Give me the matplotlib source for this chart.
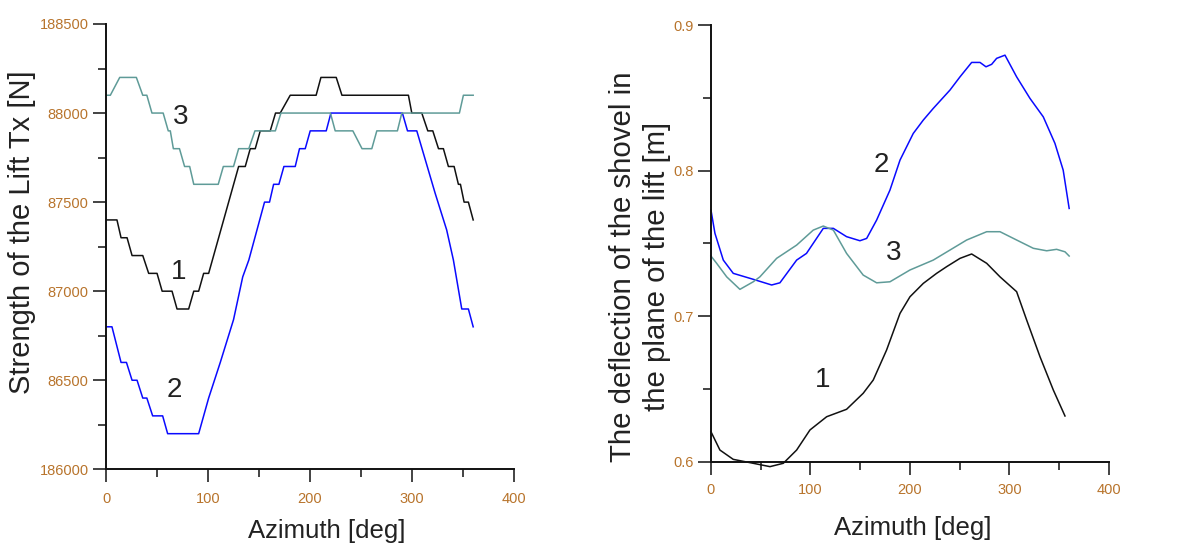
import matplotlib
matplotlib.use("Agg")
import matplotlib.pyplot as plt
from matplotlib.ticker import MultipleLocator, FixedLocator, FixedFormatter

plt.rcParams["font.family"] = ["Liberation Sans", "DejaVu Sans"]

# ---- Left panel: lift force Tx [N] vs azimuth ----
az_t1 = [0, 10.7, 14.7, 20.6, 25.5, 36, 41.8, 50, 55, 64.7, 69.6, 81, 86, 90.8,
         95.7, 100.6, 130, 136.5, 141.4, 146.3, 151.2, 161, 166.2, 170.8, 180.6,
         206, 210.7, 225.7, 231.3, 296.5, 299.8, 309.6, 315.5, 320.4, 326, 330.8,
         335.7, 341.3, 345.5, 347.5, 351.1, 355.3, 360]
tx_1 = [87400, 87400, 87300, 87300, 87200, 87200, 87100, 87100, 87000, 87000,
        86900, 86900, 87000, 87000, 87100, 87100, 87700, 87700, 87800, 87800,
        87900, 87900, 88000, 88000, 88100, 88100, 88200, 88200, 88100, 88100,
        88000, 88000, 87900, 87900, 87800, 87800, 87700, 87700, 87600, 87600,
        87500, 87500, 87400]

az_t2 = [0, 5.8, 14.7, 20, 25.5, 30.4, 36, 40, 45.7, 55.5, 60.4, 90.8, 100.6,
         112, 125, 134, 140, 155.4, 160.3, 164.3, 169.5, 174.4, 185.5, 189.7,
         195.3, 200.2, 215.9, 220.5, 290.6, 295.6, 304.7, 322.7, 334, 340.6,
         348.8, 355.3, 360]
tx_2 = [86800, 86800, 86600, 86600, 86500, 86500, 86400, 86400, 86300, 86300,
        86200, 86200, 86400, 86600, 86840, 87080, 87175, 87500, 87500, 87600,
        87600, 87700, 87700, 87800, 87800, 87900, 87900, 88000, 88000, 87900,
        87900, 87550, 87344, 87175, 86900, 86900, 86800]

az_t3 = [0, 4.2, 13.4, 29.7, 36, 40, 45, 56, 61, 63, 66, 72, 77, 82, 86, 110,
         115, 125, 130, 140, 146, 166, 171.5, 220, 224.7, 242, 251, 260.6, 265.5,
         285.7, 290, 346.5, 350.4, 360]
tx_3 = [88100, 88100, 88200, 88200, 88100, 88100, 88000, 88000, 87900, 87900,
        87800, 87800, 87700, 87700, 87600, 87600, 87700, 87700, 87800, 87800,
        87900, 87900, 88000, 88000, 87900, 87900, 87800, 87800, 87900, 87900,
        88000, 88000, 88100, 88100]

tx_ticks = [86000, 86500, 87000, 87500, 88000, 88500]
tx_tick_labels = ["186000", "86500", "87000", "87500", "88000", "188500"]

# ---- Right panel: shovel deflection [m] vs azimuth ----
az_d1 = [0, 9, 22.4, 42.5, 59.3, 72.7, 86.1, 99.5, 116.3, 136.3, 153, 163.1,
         176.5, 190, 200, 213.4, 226.8, 236.9, 250.3, 262, 277.1, 290.5, 307.2,
         317.3, 330.7, 344.1, 355.8]
dfl_1 = [0.6206, 0.608, 0.6016, 0.5989, 0.5966, 0.5989, 0.608, 0.6218, 0.6309,
         0.636, 0.647, 0.6561, 0.6767, 0.7019, 0.7133, 0.7225, 0.7294, 0.734,
         0.7397, 0.7427, 0.7363, 0.727, 0.7168, 0.6973, 0.6721, 0.6492, 0.6314]

az_d2 = [0, 4, 12.4, 22.4, 42.5, 61, 69.3, 86.1, 96, 112.9, 123, 136.3, 149.7,
         156.5, 166.5, 179.9, 190, 203.3, 213.4, 223.4, 240.2, 250.3, 262, 270.4,
         276.4, 282.1, 287.1, 295.5, 307.2, 320.6, 334, 345.7, 354, 360]
dfl_2 = [0.7729, 0.7569, 0.7385, 0.7294, 0.7253, 0.7214, 0.7229, 0.7385, 0.7431,
         0.7603, 0.7603, 0.7546, 0.7518, 0.7534, 0.766, 0.7866, 0.8072, 0.8255,
         0.8347, 0.8427, 0.8553, 0.8644, 0.8743, 0.8743, 0.8713, 0.873, 0.8771,
         0.8793, 0.8644, 0.8496, 0.8369, 0.8187, 0.8003, 0.774]

az_d3 = [0, 5.7, 15.8, 29.1, 42.5, 49.2, 66, 86.1, 102.8, 112.9, 123, 136.3, 153,
         166.5, 179.9, 200, 223.4, 240.2, 257, 277.1, 290.5, 307.2, 324, 337.4,
         347.4, 355.8, 360]
dfl_3 = [0.7413, 0.7363, 0.727, 0.7184, 0.7236, 0.727, 0.7397, 0.7488, 0.7591,
         0.7619, 0.7591, 0.7431, 0.7282, 0.7229, 0.7236, 0.7317, 0.7385, 0.7454,
         0.7523, 0.758, 0.758, 0.7523, 0.7466, 0.7449, 0.7459, 0.7442, 0.7413]

curve_names = ["1", "2", "3"]

BLACK = "#111111"
BLUE = "#0a0aff"
TEAL = "#5f9b98"
TICK_COLOR = "#b8742c"
TEXT_COLOR = "#222222"

fig = plt.figure(figsize=(11.81, 5.44), dpi=100)
ax1 = fig.add_axes([0.0898, 0.1373, 0.4352 - 0.0898, 0.9559 - 0.1373])
ax2 = fig.add_axes([0.602, 0.1513, 0.939 - 0.602, 0.954 - 0.1513])


def style_axes(ax, xpad):
    for side in ("top", "right"):
        ax.spines[side].set_visible(False)
    for side in ("left", "bottom"):
        ax.spines[side].set_linewidth(1.4)
        ax.spines[side].set_color("#111111")
    ax.tick_params(which="major", direction="out", length=9.5, width=1.1,
                   colors="#111111", labelcolor=TICK_COLOR, labelsize=10.5, pad=3)
    ax.tick_params(which="minor", direction="out", length=5.5, width=1.1,
                   colors="#111111")
    ax.tick_params(axis="x", which="major", pad=xpad)


# Left panel
ax1.plot(az_t1, tx_1, color=BLACK, lw=1.1)
ax1.plot(az_t2, tx_2, color=BLUE, lw=1.1)
ax1.plot(az_t3, tx_3, color=TEAL, lw=1.1)
ax1.set_xlim(0, 400)
ax1.set_ylim(86000, 88500)
ax1.xaxis.set_major_locator(MultipleLocator(100))
ax1.xaxis.set_minor_locator(MultipleLocator(50))
ax1.yaxis.set_major_locator(FixedLocator(tx_ticks))
ax1.yaxis.set_major_formatter(FixedFormatter(tx_tick_labels))
ax1.yaxis.set_minor_locator(MultipleLocator(250))
style_axes(ax1, xpad=7)
ax1.set_xlabel("Azimuth [deg]", fontsize=18.5, color=TEXT_COLOR)
ax1.xaxis.set_label_coords(0.542, -0.112)
ax1.set_ylabel("Strength of the Lift Tx [N]", fontsize=21, color=TEXT_COLOR)
ax1.yaxis.set_label_coords(-0.172, 0.533)
for name, (x, y) in zip(curve_names, [(71, 87107), (67, 86445), (72.8, 87979)]):
    ax1.text(x, y, name, fontsize=20, color=TEXT_COLOR, ha="center", va="center")

# Right panel
ax2.plot(az_d1, dfl_1, color=BLACK, lw=1.1, clip_on=False)
ax2.plot(az_d2, dfl_2, color=BLUE, lw=1.1, clip_on=False)
ax2.plot(az_d3, dfl_3, color=TEAL, lw=1.1, clip_on=False)
ax2.set_xlim(0, 400)
ax2.set_ylim(0.6, 0.9)
ax2.xaxis.set_major_locator(MultipleLocator(100))
ax2.xaxis.set_minor_locator(MultipleLocator(50))
ax2.yaxis.set_major_locator(MultipleLocator(0.1))
ax2.yaxis.set_minor_locator(MultipleLocator(0.05))
ax2.yaxis.set_major_formatter(plt.FuncFormatter(lambda v, p: f"{v:.1f}"))
style_axes(ax2, xpad=5.5)
ax2.set_xlabel("Azimuth [deg]", fontsize=18.5, color=TEXT_COLOR)
ax2.xaxis.set_label_coords(0.506, -0.125)
ax2.set_ylabel("The deflection of the shovel in\nthe plane of the lift [m]",
               fontsize=21.2, color=TEXT_COLOR, linespacing=1.28,
               multialignment="center")
ax2.yaxis.set_label_coords(-0.1, 0.447)
for name, (x, y) in zip(curve_names, [(111.9, 0.6561), (171.5, 0.8038), (183.3, 0.7433)]):
    ax2.text(x, y, name, fontsize=20, color=TEXT_COLOR, ha="center", va="center")

fig.savefig("out.png", dpi=100)
